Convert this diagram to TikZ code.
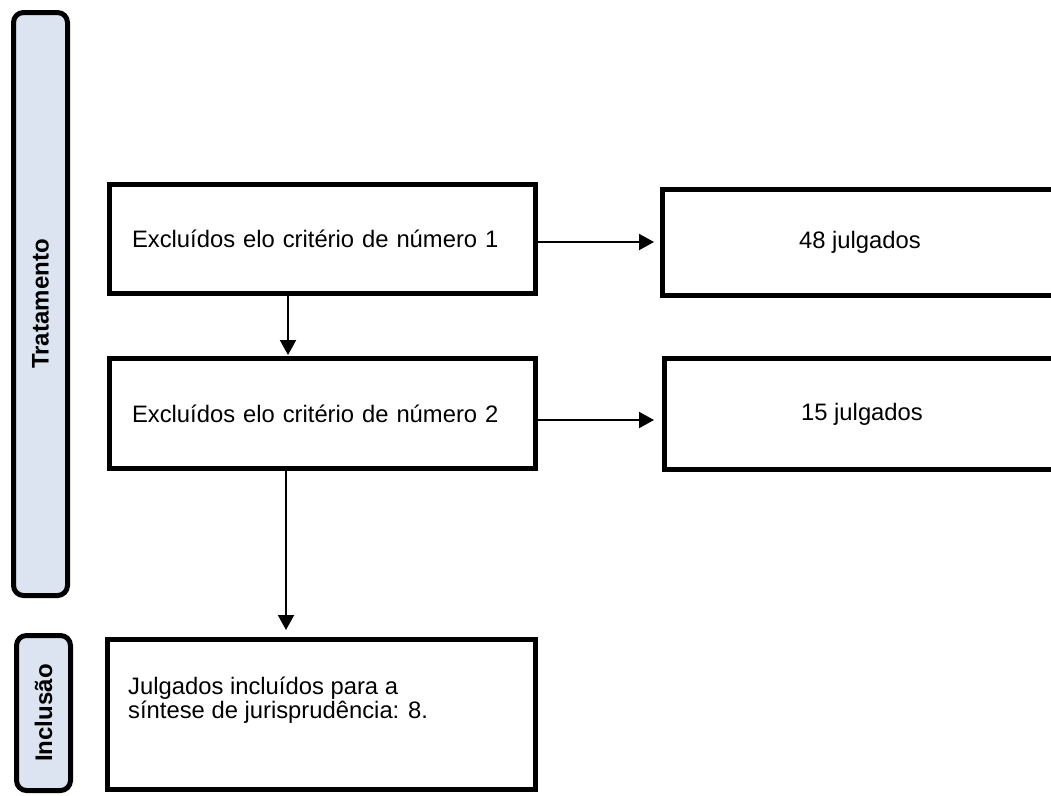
\documentclass[tikz,border=0pt]{standalone}
\usepackage{fontspec}
\setmainfont{Liberation Sans}
\usetikzlibrary{arrows.meta}
\definecolor{sidefill}{RGB}{219,228,240}
\begin{document}
\begin{tikzpicture}[x=1pt,y=-1pt,
  txt/.style={font=\fontsize{23.8}{24}\selectfont},
  stagebox/.style={draw, line width=5pt, fill=sidefill, rounded corners=10pt, minimum width=54pt, inner sep=0pt},
  stagetext/.style={font=\bfseries\fontsize{24}{24}\selectfont, rotate=90},
  mainbox/.style={draw, line width=5pt, minimum width=426pt, inner xsep=22.5pt, text width=381pt, align=left, txt},
  sidebox/.style={draw, line width=5pt, minimum width=395pt, align=center, txt},
  conn/.style={line width=2pt, -{Triangle[length=15pt,width=16pt]}}
]
\useasboundingbox (0,0) rectangle (1051,795);
\fill[white] (0,0) rectangle (1051,795);
\clip (0,0) rectangle (1051,795);

% stage labels
\node[stagebox, minimum height=583pt] (trat) at (40.5,304) {};
\node[stagetext] (tratlabel) at (trat.center) {Tratamento};
\node[stagebox, minimum height=155pt] (incl) at (43.5,713) {};
\node[stagetext] (incllabel) at (incl.center) {Inclusão};

% main boxes
\node[mainbox, minimum height=109pt] (ex1) at (322.5,239) {Excluídos elo critério de número 1};
\node[mainbox, minimum height=110pt] (ex2) at (322.5,413.5) {Excluídos elo critério de número 2};
\node[draw, line width=5pt, minimum width=428pt, minimum height=150pt] (fin) at (321.5,714.5) {};
\node[txt, anchor=north west, align=left, inner sep=0pt] (fintext) at (128,677) {Julgados incluídos para a\\síntese de jurisprudência: 8.};

% side boxes
\node[sidebox, minimum height=106pt] (j48) at (860,242.5) {48 julgados};
\node[sidebox, minimum height=111pt] (j15) at (862,414) {15 julgados};

% connectors
\coordinate (t1) at (654,242);
\coordinate (t2) at (654,420);
\draw[conn] (ex1.east |- t1) -- (t1);
\draw[conn] (ex2.east |- t2) -- (t2);
\coordinate (v1) at (288,355);
\draw[conn] (ex1.south -| v1) -- (v1);
\coordinate (v2) at (286,630);
\draw[conn] (ex2.south -| v2) -- (v2);
\end{tikzpicture}
\end{document}
